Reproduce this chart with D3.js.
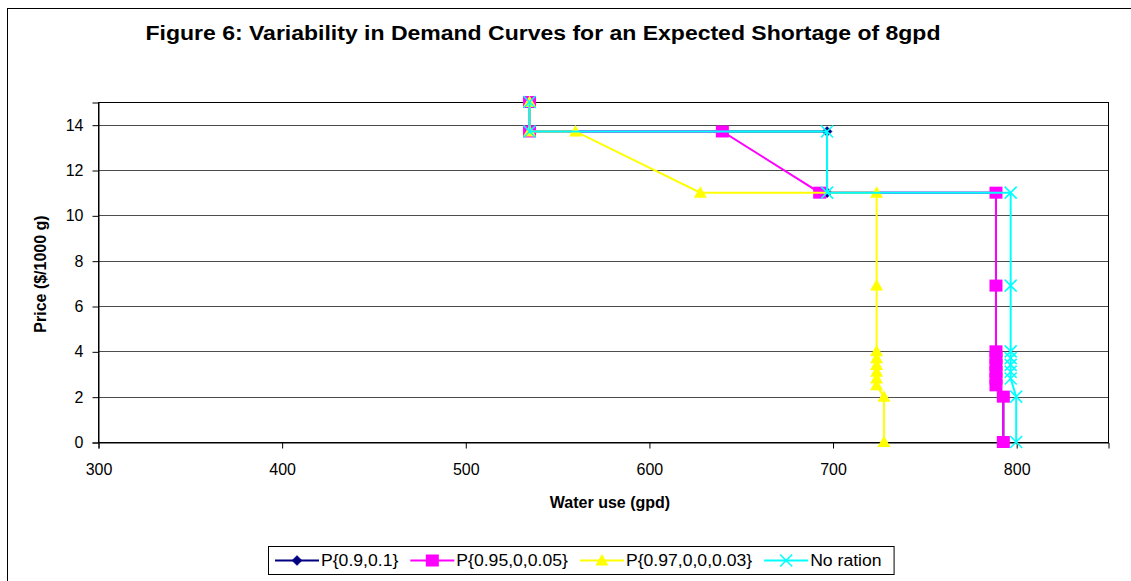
<!DOCTYPE html>
<html>
<head>
<meta charset="utf-8">
<script src="https://cdn.jsdelivr.net/npm/d3@7"></script>
<style>
  body { margin: 0; background: #fff; }
  svg { display: block; }
  text { font-family: "Liberation Sans", Arial, Helvetica, sans-serif; fill: #000; }
</style>
</head>
<body>
<svg id="chart" width="1131" height="581"></svg>
<script>
// Demand curves: water use (gpd) against price ($/1000 g)
const chartTitle = "Figure 6: Variability in Demand Curves for an Expected Shortage of 8gpd";
const xTitle = "Water use (gpd)";
const yTitle = "Price ($/1000 g)";
const xTicks = [300, 400, 500, 600, 700, 800];
const yTicks = [0, 2, 4, 6, 8, 10, 12, 14];

const seriesNames = ["P{0.9,0.1}", "P{0.95,0,0.05}", "P{0.97,0,0,0.03}", "No ration"];

const useP90 = [535, 535, 697, 697, 789, 789, 789, 789, 789, 789, 789, 789, 793, 793];
const priceP90 = [15, 13.7, 13.7, 11, 11, 6.9, 4, 3.7, 3.4, 3.1, 2.8, 2.5, 2, 0];

const useP95 = [535, 535, 640, 693, 789, 789, 789, 789, 789, 789, 789, 789, 793, 793];
const priceP95 = [15, 13.7, 13.7, 11, 11, 6.9, 4, 3.7, 3.4, 3.1, 2.8, 2.5, 2, 0];

const useP97 = [535, 535, 560, 628, 724, 724, 724, 724, 724, 724, 724, 724, 728, 728];
const priceP97 = [15, 13.7, 13.7, 11, 11, 6.9, 4, 3.7, 3.4, 3.1, 2.8, 2.5, 2, 0];

const useNone = [535, 535, 697, 697, 797, 797, 797, 797, 797, 797, 797, 800, 800];
const priceNone = [15, 13.7, 13.7, 11, 11, 6.9, 4, 3.7, 3.4, 3.1, 2.8, 2, 0];

const svg = d3.select("#chart");
const W = 1131, H = 581;
const plot = { left: 98, top: 102, right: 1108, bottom: 442 };

svg.append("rect").attr("width", W).attr("height", H).attr("fill", "#fff");
// outer chart frame
svg.append("rect")
  .attr("x", 7.5).attr("y", 8.5).attr("width", W).attr("height", H)
  .attr("fill", "none").attr("stroke", "#000").attr("stroke-width", 1);

const x = d3.scaleLinear().domain([300, 850]).range([plot.left, plot.right]);
const y = d3.scaleLinear().domain([0, 15]).range([plot.bottom, plot.top]);

// horizontal gridlines
svg.append("g")
  .selectAll("line")
  .data(yTicks.filter(v => v > 0))
  .join("line")
  .attr("x1", plot.left).attr("x2", plot.right)
  .attr("y1", d => Math.round(y(d)) + 0.5).attr("y2", d => Math.round(y(d)) + 0.5)
  .attr("stroke", "#4d4d4d").attr("stroke-width", 1);

// plot frame
svg.append("rect")
  .attr("x", plot.left + 0.5).attr("y", plot.top + 0.5)
  .attr("width", plot.right - plot.left).attr("height", plot.bottom - plot.top)
  .attr("fill", "none").attr("stroke", "#000").attr("stroke-width", 1);

// axes
const xAxis = svg.append("g")
  .attr("transform", `translate(0.5,${plot.bottom + 0.5})`)
  .call(d3.axisBottom(x).tickValues(xTicks).tickSize(6).tickPadding(15).tickFormat(d3.format("d")));
const yAxis = svg.append("g")
  .attr("transform", `translate(${plot.left + 0.5},0.5)`)
  .call(d3.axisLeft(y).tickValues(yTicks).tickSize(6).tickPadding(9).tickFormat(d3.format("d")));
[xAxis, yAxis].forEach(g => {
  g.select(".domain").attr("stroke", "#000");
  g.selectAll(".tick line").attr("stroke", "#000");
  g.selectAll("text").attr("font-size", 16).attr("font-family", "Liberation Sans, Arial, sans-serif").attr("fill", "#000");
});

// widen a text run horizontally by a factor, keeping its anchor
function widen(sel, factor) {
  const w = sel.node().getComputedTextLength();
  sel.attr("textLength", w * factor).attr("lengthAdjust", "spacingAndGlyphs");
  return w * factor;
}

// titles
const titleText = svg.append("text")
  .attr("x", 543).attr("y", 40)
  .attr("text-anchor", "middle")
  .attr("font-size", 20).attr("font-weight", "bold")
  .text(chartTitle);
widen(titleText, 1.15);
svg.append("text")
  .attr("x", 610).attr("y", 508)
  .attr("text-anchor", "middle")
  .attr("font-size", 16).attr("font-weight", "bold")
  .text(xTitle);
svg.append("text")
  .attr("transform", `translate(46,274) rotate(-90)`)
  .attr("text-anchor", "middle")
  .attr("font-size", 16).attr("font-weight", "bold")
  .text(yTitle);

// marker shapes
function drawMarker(g, kind, cx, cy) {
  if (kind === "diamond") {
    g.append("path")
      .attr("d", `M${cx},${cy - 5}L${cx + 5},${cy}L${cx},${cy + 5}L${cx - 5},${cy}Z`)
      .attr("fill", "#000080").attr("stroke", "#000080").attr("stroke-width", 0.5);
  } else if (kind === "square") {
    g.append("rect")
      .attr("x", cx - 6.5).attr("y", cy - 6).attr("width", 13).attr("height", 12)
      .attr("fill", "#ff00ff");
  } else if (kind === "triangle") {
    g.append("path")
      .attr("d", `M${cx},${cy - 6.5}L${cx + 6.5},${cy + 5}L${cx - 6.5},${cy + 5}Z`)
      .attr("fill", "#ffff00");
  } else if (kind === "cross") {
    g.append("path")
      .attr("d", `M${cx - 6},${cy - 6}L${cx + 6},${cy + 6}M${cx - 6},${cy + 6}L${cx + 6},${cy - 6}`)
      .attr("stroke", "#00ffff").attr("stroke-width", 1.6).attr("fill", "none");
  }
}

const series = [
  { name: seriesNames[0], use: useP90, price: priceP90, color: "#000080", marker: "diamond" },
  { name: seriesNames[1], use: useP95, price: priceP95, color: "#ff00ff", marker: "square" },
  { name: seriesNames[2], use: useP97, price: priceP97, color: "#ffff00", marker: "triangle" },
  { name: seriesNames[3], use: useNone, price: priceNone, color: "#00ffff", marker: "cross" }
];

const line = d3.line().x(d => x(d[0])).y(d => y(d[1]));

series.forEach(s => {
  const pts = s.use.map((u, i) => [u, s.price[i]]);
  const g = svg.append("g");
  g.append("path")
    .attr("d", line(pts))
    .attr("fill", "none").attr("stroke", s.color).attr("stroke-width", 2)
    .attr("stroke-linejoin", "miter");
  pts.forEach(p => drawMarker(g, s.marker, x(p[0]), y(p[1])));
});

// legend
const legend = svg.append("g");
const legTop = 546, legH = 28, legLeft = 268;
const legBox = legend.append("rect")
  .attr("x", legLeft + 0.5).attr("y", legTop + 0.5).attr("height", legH)
  .attr("fill", "#fff").attr("stroke", "#000").attr("stroke-width", 1);
let cursor = legLeft + 7;
const midY = legTop + legH / 2 + 0.5;
series.forEach(s => {
  const g = legend.append("g");
  g.append("line")
    .attr("x1", cursor).attr("x2", cursor + 44)
    .attr("y1", midY).attr("y2", midY)
    .attr("stroke", s.color).attr("stroke-width", 2);
  drawMarker(g, s.marker, cursor + 22, midY);
  const t = g.append("text")
    .attr("x", cursor + 46).attr("y", midY + 5.5)
    .attr("font-size", 16)
    .text(s.name);
  cursor += 46 + widen(t, 1.1) + 12;
});
legBox.attr("width", cursor - legLeft);
</script>
</body>
</html>
